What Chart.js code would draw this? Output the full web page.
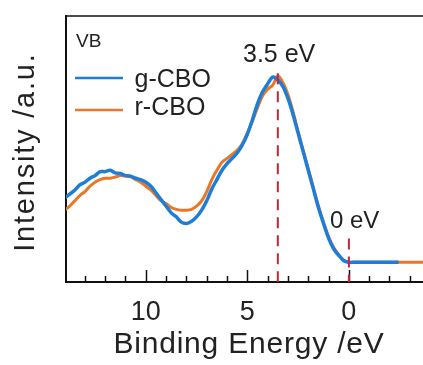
<!DOCTYPE html>
<html>
<head>
<meta charset="utf-8">
<script src="https://cdn.jsdelivr.net/npm/chart.js@4.4.0/dist/chart.umd.min.js"></script>
<style>
  body { margin: 0; background: #fff; }
  #wrap { width: 423px; height: 365px; position: relative; }
</style>
</head>
<body>
<div id="wrap"><canvas id="chart"></canvas></div>
<script>
// binding energy (eV), high to low
const energy = [14, 13.75, 13.5, 13.25, 13, 12.75, 12.5, 12.25, 12, 11.75, 11.5, 11.25, 11, 10.75, 10.5, 10.25,
  10, 9.75, 9.5, 9.25, 9, 8.75, 8.5, 8.25, 8, 7.75, 7.5, 7.25, 7, 6.75, 6.5, 6.25,
  6, 5.75, 5.5, 5.25, 5, 4.75, 4.5, 4.25, 4, 3.75, 3.5, 3.25, 3, 2.75, 2.5, 2.25,
  2, 1.75, 1.5, 1.25, 1, 0.75, 0.5, 0.25, 0, -0.25, -0.5, -0.75, -1, -1.25, -1.5, -1.75,
  -2, -2.25, -2.45, -2.75, -3, -3.25, -3.5, -3.75];

const gCBO = [31.5, 33, 34.5, 36.5, 37.5, 39, 40, 41.5, 41.5, 42, 41, 40.8, 40, 39.8, 39, 38.5,
  37.5, 36, 33.5, 31, 28.5, 26, 24.5, 22.5, 22, 22.8, 24.5, 27, 30.5, 35, 38.5, 42,
  44.5, 46.5, 48.5, 51.5, 55.5, 61, 67, 71.5, 74.5, 77, 76, 73.5, 69, 63, 56, 49,
  42, 35, 28, 22, 16.5, 12.5, 10, 8, 7.4, 7.4, 7.4, 7.4, 7.4, 7.4, 7.4, 7.4,
  7.4, 7.4, 7.4, null, null, null, null, null];

const rCBO = [27, 28.5, 30.5, 32.5, 34, 36, 37.5, 38.5, 39, 39, 39.5, 40, 39.8, 39.5, 38.5, 37.5,
  36, 34.5, 32.5, 30.5, 29.5, 28, 27.3, 27, 27, 27.3, 28.5, 30.5, 34, 38.5, 42, 45,
  46.5, 48, 49.5, 52, 56, 60.5, 65.5, 70, 72.5, 74, 77.5, 75, 70.5, 64, 56.5, 49.5,
  42.5, 35.5, 28.5, 22.5, 17, 13, 10.2, 8.2, 7.4, 7.4, 7.4, 7.4, 7.4, 7.4, 7.4, 7.4,
  7.4, 7.4, 7.4, 7.4, 7.4, 7.4, 7.4, 7.4];

const tickValues = [-3, -2, -1, 0, 1, 2, 3, 4, 5, 6, 7, 8, 9, 10, 11, 12, 13];
const markers = [{ e: 3.5, top: 78.5, text: "3.5 eV" }, { e: 0, top: 16.4, text: "0 eV" }];
const xTitle = "Binding Energy /eV";
const yTitle = "Intensity /a.u.";

const FONT = "'Liberation Sans', Arial, sans-serif";

const decor = {
  id: "decor",
  afterDatasetsDraw(chart) {
    const { ctx, chartArea: a, scales: { x, y } } = chart;
    ctx.save();
    // top frame line
    ctx.strokeStyle = "#111";
    ctx.lineWidth = 1.5;
    ctx.beginPath();
    ctx.moveTo(a.left, a.top);
    ctx.lineTo(a.right, a.top);
    ctx.stroke();

    // inward ticks
    tickValues.forEach((v) => {
      const px = Math.round(x.getPixelForValue(v)) + 0.5;
      const len = v % 5 === 0 ? 12 : 6;
      ctx.beginPath();
      ctx.moveTo(px, a.bottom);
      ctx.lineTo(px, a.bottom - len);
      ctx.stroke();
    });

    // dashed markers
    ctx.strokeStyle = "rgb(190,40,55)";
    ctx.lineWidth = 2;
    ctx.setLineDash([11, 7]);
    markers.forEach((m) => {
      const px = x.getPixelForValue(m.e);
      ctx.beginPath();
      ctx.moveTo(px, y.getPixelForValue(m.top));
      ctx.lineTo(px, a.bottom);
      ctx.stroke();
    });
    ctx.setLineDash([]);

    ctx.fillStyle = "#222";
    ctx.textBaseline = "alphabetic";
    ctx.textAlign = "left";
    ctx.font = "25px " + FONT;
    ctx.fillText(markers[0].text, 243, 61.5);
    ctx.font = "24px " + FONT;
    ctx.fillText(markers[1].text, 330, 228);

    // legend box
    ctx.font = "19px " + FONT;
    ctx.fillText("VB", 76, 47);
    ctx.font = "25px " + FONT;
    chart.data.datasets.forEach((ds, i) => {
      const ly = 78 + i * 32;
      ctx.strokeStyle = ds.borderColor;
      ctx.lineWidth = 2.5;
      ctx.beginPath();
      ctx.moveTo(75, ly);
      ctx.lineTo(123, ly);
      ctx.stroke();
      ctx.fillText(ds.label, 134.5, 86.5 + i * 28.5);
    });

    // axis titles (slightly spaced out like the original)
    ctx.textAlign = "center";
    ctx.font = "30px " + FONT;
    ctx.letterSpacing = "0.8px";
    ctx.fillText(xTitle, 249, 353);
    ctx.translate(34, 153);
    ctx.rotate(-Math.PI / 2);
    ctx.font = "29px " + FONT;
    ctx.letterSpacing = "1.8px";
    ctx.fillText(yTitle, 0.9, 0);
    ctx.restore();
  },
};

new Chart(document.getElementById("chart"), {
  type: "line",
  data: {
    labels: energy,
    datasets: [
      {
        label: "g-CBO",
        data: gCBO,
        borderColor: "rgb(30,125,215)",
        borderWidth: 3.5,
        pointRadius: 0,
        tension: 0.3,
        spanGaps: false,
      },
      {
        label: "r-CBO",
        data: rCBO,
        borderColor: "rgb(232,120,40)",
        borderWidth: 3,
        pointRadius: 0,
        tension: 0.3,
      },
    ],
  },
  options: {
    responsive: true,
    maintainAspectRatio: false,
    animation: false,
    layout: { padding: { top: 16, left: 0, right: 0, bottom: 0 } },
    plugins: { legend: { display: false }, tooltip: { enabled: false } },
    scales: {
      x: {
        type: "linear",
        reverse: true,
        min: -3.65,
        max: 13.93,
        afterBuildTicks: (scale) => {
          scale.ticks = tickValues.map((v) => ({ value: v }));
        },
        afterFit: (scale) => { scale.height = 83; },
        grid: { display: false, drawTicks: false },
        border: { display: true, color: "#111", width: 2 },
        ticks: {
          autoSkip: false,
          maxRotation: 0,
          padding: 14,
          color: "#222",
          font: { family: FONT, size: 27 },
          callback: (v) => (v % 5 === 0 && v >= 0 ? String(v) : ""),
        },
        title: { display: false },
      },
      y: {
        min: 0,
        max: 100,
        afterFit: (scale) => { scale.width = 66; },
        grid: { display: false, drawTicks: false },
        border: { display: true, color: "#111", width: 2 },
        ticks: { display: false },
        title: { display: false },
      },
    },
  },
  plugins: [decor],
});
</script>
</body>
</html>
